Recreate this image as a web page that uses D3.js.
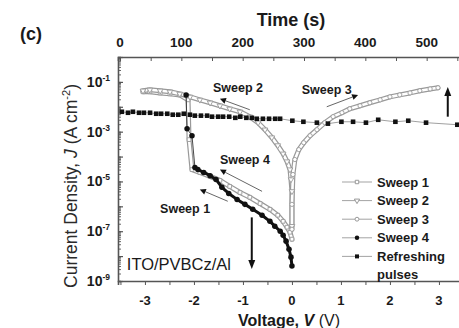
<!DOCTYPE html>
<html><head><meta charset="utf-8">
<script src="https://cdn.jsdelivr.net/npm/d3@7"></script>
<style>
html,body{margin:0;padding:0;background:#fff;}
svg{display:block;font-family:"Liberation Sans",Arial,sans-serif;}
</style></head>
<body><svg id="c" width="459" height="328"></svg>
<script>
// ---- data ----
const voltTicks = [-3,-2,-1,0,1,2,3];
const timeTicks = [0,100,200,300,400,500];
const jTicks = [1e-1,1e-3,1e-5,1e-7,1e-9];
const jTickExp = ["-1","-3","-5","-7","-9"];

const sweep1V = [0,-0.04,-0.10,-0.18,-0.29,-0.45,-0.65,-0.86,-1.06,-1.27,-1.47,-1.67,-1.88,-2.04,-2.10,-2.12,-2.29,-2.49,-2.69,-2.90,-3.04];
const sweep1J = [4.8e-8,9.1e-8,1.45e-7,2.5e-7,4.4e-7,7.6e-7,1.3e-6,2.3e-6,3.6e-6,6.3e-6,1.1e-5,1.6e-5,2.3e-5,3.0e-5,4.8e-4,1.9e-2,3.0e-2,3.3e-2,3.6e-2,4.0e-2,4.0e-2];

const sweep2V = [-3.04,-2.90,-2.69,-2.49,-2.29,-2.08,-1.88,-1.67,-1.47,-1.27,-1.06,-0.86,-0.69,-0.55,-0.41,-0.29,-0.18,-0.10,-0.04,-0.02,0,0];
const sweep2J = [4.4e-2,4.8e-2,4.4e-2,4.0e-2,3.3e-2,2.5e-2,1.9e-2,1.45e-2,1.1e-2,8.3e-3,6.3e-3,4.0e-3,2.3e-3,1.2e-3,5.8e-4,2.8e-4,1.3e-4,6.3e-5,3.0e-5,1.2e-5,4.0e-6,1.6e-7];

const sweep3V = [0,0,0.02,0.06,0.14,0.24,0.37,0.51,0.67,0.84,1.02,1.18,1.39,1.59,1.80,2.00,2.20,2.41,2.61,2.82,2.98];
const sweep3J = [1.2e-7,1.2e-6,1.9e-5,7.6e-5,1.9e-4,3.6e-4,6.9e-4,1.2e-3,2.3e-3,4.0e-3,5.8e-3,8.3e-3,1.1e-2,1.45e-2,1.9e-2,2.5e-2,3.0e-2,3.6e-2,4.4e-2,5.2e-2,5.8e-2];

const sweep4V = [0,-0.02,-0.06,-0.12,-0.18,-0.24,-0.35,-0.45,-0.61,-0.80,-0.96,-1.12,-1.29,-1.43,-1.55,-1.67,-1.80,-1.92,-1.98,-2.04,-2.14,-2.16];
const sweep4J = [4.0e-9,9.1e-9,1.9e-8,4.0e-8,6.9e-8,1.0e-7,1.6e-7,2.5e-7,4.4e-7,7.6e-7,1.2e-6,1.9e-6,3.3e-6,5.8e-6,1.2e-5,1.7e-5,2.3e-5,3.0e-5,3.6e-5,6.9e-4,1.3e-3,3.0e-2];

const pulseT = [3,13,21,31,39,49,59,67,77,86,95,104,114,122,132,142,150,160,168,178,188,196,206,215,223,233,243,253,261,281,299,321,339,361,380,401,421,449,470,499,550];
const pulseJ = [6.3e-3,5.75e-3,6.3e-3,5.75e-3,5.75e-3,5.75e-3,5.25e-3,5.25e-3,5.25e-3,4.8e-3,4.8e-3,5.25e-3,4.8e-3,4.4e-3,4.4e-3,4.4e-3,4.0e-3,4.0e-3,4.0e-3,4.0e-3,3.6e-3,4.0e-3,3.6e-3,3.6e-3,3.3e-3,3.3e-3,3.3e-3,3.3e-3,3.3e-3,2.75e-3,2.5e-3,2.3e-3,2.1e-3,2.5e-3,2.5e-3,2.3e-3,3.0e-3,2.5e-3,2.75e-3,2.3e-3,1.9e-3];

const legendLabels = ["Sweep 1","Sweep 2","Sweep 3","Sweep 4","Refreshing"];

// annotations in data units [V, J]
const notes = [
  {text:"Sweep 2", v:-1.1, j:4.0e-2},
  {text:"Sweep 3", v:0.71, j:3.3e-2},
  {text:"Sweep 4", v:-0.96, j:5.2e-5},
  {text:"Sweep 1", v:-2.18, j:5.2e-7}
];
const arrows = [
  {v0:-0.86, j0:7.6e-3, v1:-1.47, j1:2.1e-2, big:false},
  {v0:0.71, j0:1.0e-2, v1:1.35, j1:3.0e-2, big:false},
  {v0:-0.61, j0:4.0e-6, v1:-1.47, j1:3.0e-5, big:false},
  {v0:-1.31, j0:1.6e-6, v1:-1.88, j1:4.8e-6, big:false},
  {v0:-0.82, j0:3.6e-7, v1:-0.82, j1:3.0e-9, big:true},
  {v0:3.18, j0:4.0e-3, v1:3.18, j1:6.3e-2, big:true}
];

// ---- scales ----
const L=118, R=461, T=57, B=281;
const x = d3.scaleLinear().domain([-3.55,3.45]).range([L,R]);
const t = d3.scaleLinear().domain([-3.3,556]).range([L,R]);
const y = d3.scaleLog().domain([1e-9,1]).range([B,T]);

const svg = d3.select("#c");
svg.append("defs").append("clipPath").attr("id","clip")
  .append("rect").attr("x",L).attr("y",T).attr("width",R-L).attr("height",B-T);

const axisCol = "#555";
const txtCol = "#1a1a1a";

// ---- axes ----
const bMinor = d3.range(-3.5,3.51,0.5);
const gb = svg.append("g").attr("transform",`translate(0,${B})`)
  .call(d3.axisBottom(x).tickValues(bMinor).tickSize(4).tickFormat(""));
gb.select(".domain").attr("stroke",axisCol).attr("stroke-width",1.6);
gb.selectAll(".tick line").attr("stroke",axisCol).attr("stroke-width",1);
svg.selectAll(".xlab").data(voltTicks).enter().append("text")
  .attr("x",d=>x(d)).attr("y",B+24).attr("text-anchor","middle")
  .attr("font-size",13).attr("font-weight","bold").attr("fill",txtCol)
  .text(d=>String(d));

const tMinor = d3.range(0,551,50);
const gt = svg.append("g").attr("transform",`translate(0,${T})`)
  .call(d3.axisBottom(t).tickValues(tMinor).tickSize(4).tickFormat(""));
gt.select(".domain").attr("stroke",axisCol).attr("stroke-width",1.6);
gt.selectAll(".tick line").attr("stroke",axisCol).attr("stroke-width",1);
svg.selectAll(".tlab").data(timeTicks).enter().append("text")
  .attr("x",d=>t(d)).attr("y",T-10).attr("text-anchor","middle")
  .attr("font-size",13.5).attr("font-weight","bold").attr("fill",txtCol)
  .text(d=>String(d));

const yMinor = y.ticks().filter(d=>d>=1e-9 && d<=1);
const gl = svg.append("g").attr("transform",`translate(${L},0)`)
  .call(d3.axisRight(y).tickValues(yMinor).tickSize(3).tickFormat(""));
gl.select(".domain").attr("stroke",axisCol).attr("stroke-width",1.6);
gl.selectAll(".tick line").attr("stroke",axisCol).attr("stroke-width",0.9);
const yMajor = d3.range(-9,1).map(e=>Math.pow(10,e));
svg.append("g").attr("transform",`translate(${L},0)`)
  .call(d3.axisRight(y).tickValues(yMajor).tickSize(5).tickFormat(""))
  .call(g=>{g.select(".domain").remove(); g.selectAll(".tick line").attr("stroke",axisCol).attr("stroke-width",1.2);});
const yl = svg.selectAll(".ylab").data(jTicks).enter().append("text")
  .attr("x",L-8).attr("y",d=>y(d)+5).attr("text-anchor","end")
  .attr("font-size",14).attr("font-weight","bold").attr("fill",txtCol);
yl.append("tspan").text("10");
yl.append("tspan").attr("dy",-6).attr("font-size",8.5).text((d,i)=>jTickExp[i]);

// ---- titles ----
svg.append("text").attr("x",20).attr("y",40).attr("font-size",18).attr("font-weight","bold").attr("fill",txtCol).text("(c)");
svg.append("text").attr("x",291).attr("y",26).attr("text-anchor","middle").attr("font-size",18).attr("font-weight","bold").attr("fill",txtCol).text("Time (s)");
const xt = svg.append("text").attr("x",289).attr("y",326).attr("text-anchor","middle").attr("font-size",16).attr("font-weight","bold").attr("fill",txtCol);
xt.append("tspan").text("Voltage, ");
xt.append("tspan").attr("font-style","italic").text("V");
xt.append("tspan").attr("font-weight","normal").text(" (V)");
const yt = svg.append("text").attr("transform","translate(77,186) rotate(-90)").attr("text-anchor","middle").attr("font-size",17.5).attr("fill","#2a2a2a");
yt.append("tspan").text("Current Density, ");
yt.append("tspan").attr("font-style","italic").text("J");
yt.append("tspan").text(" (A cm");
yt.append("tspan").attr("dy",-7).attr("font-size",11).text("-2");
yt.append("tspan").attr("dy",7).text(")");

// ---- data marks ----
const plot = svg.append("g").attr("clip-path","url(#clip)");
const lineV = d3.line().x(d=>x(d[0])).y(d=>y(d[1]));
const zipV = (a,b)=>a.map((v,i)=>[v,b[i]]);
const grey = "#999";

const s1 = zipV(sweep1V,sweep1J), s2 = zipV(sweep2V,sweep2J), s3 = zipV(sweep3V,sweep3J), s4 = zipV(sweep4V,sweep4J);
const pulses = pulseT.map((v,i)=>[v,pulseJ[i]]);

plot.append("path").datum(pulses)
  .attr("d",d3.line().x(d=>t(d[0])).y(d=>y(d[1])))
  .attr("fill","none").attr("stroke","#888").attr("stroke-width",0.8);

function band(data){
  plot.append("path").datum(data).attr("d",lineV).attr("fill","none")
    .attr("stroke",grey).attr("stroke-width",5).attr("stroke-linejoin","round").attr("stroke-linecap","round");
  plot.append("path").datum(data).attr("d",lineV).attr("fill","none")
    .attr("stroke","#fff").attr("stroke-width",2.6).attr("stroke-linejoin","round").attr("stroke-linecap","round");
}
[s1,s2,s3].forEach(band);
const sym = {
  square: d3.symbol().type(d3.symbolSquare).size(14),
  tri: d3.symbol().type(d3.symbolTriangle).size(14),
  circle: d3.symbol().type(d3.symbolCircle).size(14)
};
function markers(data, path, rot){
  plot.selectAll(null).data(data).enter().append("path")
    .attr("d",path).attr("transform",d=>`translate(${x(d[0])},${y(d[1])}) rotate(${rot})`)
    .attr("fill","#fff").attr("stroke",grey).attr("stroke-width",0.9);
}
markers(s1,sym.square(),0);
markers(s2,sym.tri(),180);
markers(s3,sym.circle(),0);

plot.append("path").datum(s4.slice(0,19)).attr("d",lineV).attr("fill","none").attr("stroke","#111").attr("stroke-width",3).attr("stroke-linejoin","round");
plot.append("path").datum(s4.slice(18)).attr("d",lineV).attr("fill","none").attr("stroke","#333").attr("stroke-width",0.9);
plot.selectAll(null).data(s4).enter().append("path")
  .attr("d",d3.symbol().type(d3.symbolCircle).size(24)())
  .attr("transform",d=>`translate(${x(d[0])},${y(d[1])})`).attr("fill","#111");

plot.selectAll(null).data(pulses).enter().append("rect")
  .attr("x",d=>t(d[0])-2.3).attr("y",d=>y(d[1])-2.3).attr("width",4.6).attr("height",4.6).attr("fill","#111");

// ---- annotations ----
svg.selectAll(".note").data(notes).enter().append("text")
  .attr("x",d=>x(d.v)).attr("y",d=>y(d.j)).attr("text-anchor","middle")
  .attr("font-size",12.5).attr("font-weight","bold").attr("fill",txtCol).text(d=>d.text);
svg.append("text").attr("x",x(-3.37)).attr("y",y(2.75e-9)).attr("font-size",16.5).attr("fill",txtCol).text("ITO/PVBCz/Al");

arrows.forEach(a=>{
  const x0=x(a.v0), y0=y(a.j0), x1=x(a.v1), y1=y(a.j1);
  const ang = Math.atan2(y1-y0,x1-x0);
  const hl = a.big?9:6, hw = a.big?3.5:3;
  const bx = x1-hl*Math.cos(ang), by = y1-hl*Math.sin(ang);
  svg.append("line").attr("x1",x0).attr("y1",y0).attr("x2",bx).attr("y2",by)
    .attr("stroke",a.big?"#111":"#555").attr("stroke-width",a.big?2:0.9);
  const px=-Math.sin(ang), py=Math.cos(ang);
  svg.append("path").attr("d",`M${x1},${y1}L${bx+px*hw},${by+py*hw}L${bx-px*hw},${by-py*hw}Z`).attr("fill","#111");
});

// ---- legend ----
const lg = svg.append("g");
const ly0 = 182, ldy = 18.6;
legendLabels.forEach((lab,i)=>{
  const yy = ly0 + i*ldy;
  lg.append("line").attr("x1",342).attr("x2",372).attr("y1",yy).attr("y2",yy).attr("stroke","#999").attr("stroke-width",0.9);
  let p;
  if(i===0) p = lg.append("path").attr("d",d3.symbol().type(d3.symbolSquare).size(12)()).attr("fill","#fff").attr("stroke",grey);
  else if(i===1) p = lg.append("path").attr("d",d3.symbol().type(d3.symbolTriangle).size(12)()).attr("fill","#fff").attr("stroke",grey);
  else if(i===2) p = lg.append("path").attr("d",d3.symbol().type(d3.symbolCircle).size(12)()).attr("fill","#fff").attr("stroke",grey);
  else if(i===3) p = lg.append("path").attr("d",d3.symbol().type(d3.symbolCircle).size(16)()).attr("fill","#111");
  else p = lg.append("path").attr("d",d3.symbol().type(d3.symbolSquare).size(16)()).attr("fill","#111");
  p.attr("transform",`translate(357,${yy}) rotate(${i===1?180:0})`);
  lg.append("text").attr("x",377).attr("y",yy+4.5).attr("font-size",13).attr("font-weight","bold").attr("fill",txtCol).text(lab);
});
lg.append("text").attr("x",377).attr("y",ly0+5*ldy-1+4.5).attr("font-size",13).attr("font-weight","bold").attr("fill",txtCol).text("pulses");
</script></body></html>
